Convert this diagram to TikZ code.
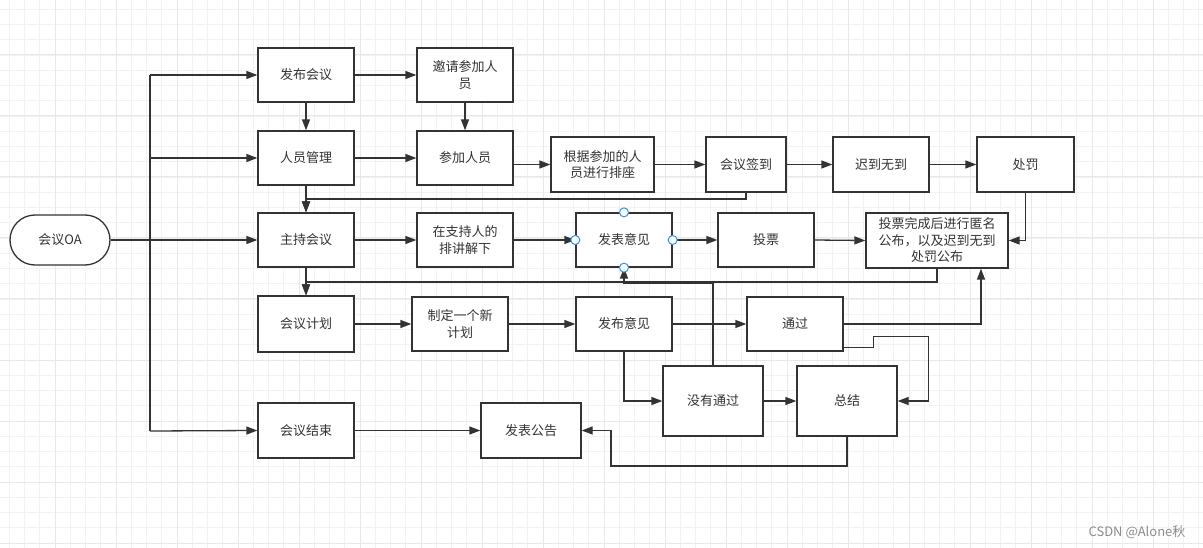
\documentclass[tikz,border=0pt]{standalone}
\usepackage{fontspec}
\setmainfont{Noto Sans CJK SC}
\usetikzlibrary{arrows.meta,calc}
\definecolor{ink}{HTML}{333333}
\definecolor{gridminor}{HTML}{F2F2F2}
\definecolor{gridmajor}{HTML}{E8E8E8}
\definecolor{handle}{HTML}{3D8EF0}
\tikzset{
  box/.style={draw=ink,line width=1.3pt,fill=white,inner sep=0pt,align=center,text=ink,
    font=\fontsize{13}{16.5}\selectfont},
  arr/.style={draw=ink,line width=1.3pt,-{Triangle[length=11pt,width=8pt]}},
  ln/.style={draw=ink,line width=1.3pt},
  hdl/.style={draw=handle,line width=1pt,fill=white,circle,inner sep=0pt,minimum size=9pt}
}
\begin{document}
\begin{tikzpicture}[x=1pt,y=-1pt]
\useasboundingbox (0,0) rectangle (1203,548);
\fill[white] (0,0) rectangle (1203,548);
% grid
\foreach \i in {0,...,80} {
  \draw[gridminor,line width=0.8pt] ({-6+15.25*\i},0) -- ({-6+15.25*\i},548);
}
\foreach \i in {0,...,37} {
  \draw[gridminor,line width=0.8pt] (0,{-6+15.25*\i}) -- (1203,{-6+15.25*\i});
}
\foreach \i in {0,...,20} {
  \draw[gridmajor,line width=1pt] ({-6+61*\i},0) -- ({-6+61*\i},548);
}
\foreach \i in {0,...,9} {
  \draw[gridmajor,line width=1pt] (0,{-6+61*\i}) -- (1203,{-6+61*\i});
}

% nodes
\node[box,rounded corners=25pt,minimum width=100pt,minimum height=50pt] (oa) at (60,240) {会议OA};
\node[box,minimum width=96pt,minimum height=54pt] (fbhy) at (306,75) {发布会议};
\node[box,minimum width=96pt,minimum height=54pt] (rygl) at (306,158) {人员管理};
\node[box,minimum width=96pt,minimum height=54pt] (zchy) at (306,240) {主持会议};
\node[box,minimum width=96pt,minimum height=56pt] (hyjh) at (306,324) {会议计划};
\node[box,minimum width=96pt,minimum height=55pt] (hyjs) at (306,430.5) {会议结束};
\node[box,minimum width=96pt,minimum height=54pt] (yq) at (465,75) {邀请参加人\\员};
\node[box,minimum width=96pt,minimum height=54pt] (cjry) at (465,158) {参加人员};
\node[box,minimum width=96pt,minimum height=54pt] (zcr) at (465,240) {在支持人的\\排讲解下};
\node[box,minimum width=96pt,minimum height=54pt] (zd) at (460,324) {制定一个新\\计划};
\node[box,minimum width=100pt,minimum height=55pt] (fbgg) at (531,430.5) {发表公告};
\node[box,minimum width=103pt,minimum height=55pt] (gj) at (602.5,164.5) {根据参加的人\\员进行排座};
\node[box,minimum width=96pt,minimum height=54pt] (fbyj) at (624,240) {发表意见};
\node[box,minimum width=96pt,minimum height=54pt] (fbyj2) at (624,324) {发布意见};
\node[box,minimum width=100pt,minimum height=70pt] (mytg) at (713,401) {没有通过};
\node[box,minimum width=80pt,minimum height=55pt] (qd) at (746,164.5) {会议签到};
\node[box,minimum width=96pt,minimum height=54pt] (tp) at (766,240) {投票};
\node[box,minimum width=96pt,minimum height=54pt] (tg) at (795,324) {通过};
\node[box,minimum width=100pt,minimum height=70pt] (zj) at (847,401) {总结};
\node[box,minimum width=96pt,minimum height=55pt] (cd) at (881,164.5) {迟到无到};
\node[box,minimum width=97pt,minimum height=55pt] (cf) at (1025.5,164.5) {处罚};
\node[box,minimum width=142pt,minimum height=55pt] (tpwc) at (937,240.5) {投票完成后进行匿名\\公布，以及迟到无到\\处罚公布};

% helper coordinates
\coordinate (trT) at (150,75);
\coordinate (trB) at (150,431);
\coordinate (j1) at (306,199);
\coordinate (j2) at (306,282);
\coordinate (j3) at (624,283);
\coordinate (c981) at (981,0);
\coordinate (j5) at (611,466);

% trunk
\draw[ln] (trT) -- (trB);
\draw[arr] (trT) -- (fbhy.west);
\draw[arr] (trT |- rygl.west) -- (rygl.west);
\draw[arr] (oa.east) -- (zchy.west);
\draw[arr] (trB) -- (hyjs.west);

% row connectors
\draw[arr] (fbhy.east) -- (yq.west);
\draw[arr] (fbhy.south) -- (rygl.north);
\draw[arr] (yq.south) -- (cjry.north);
\draw[arr] (rygl.east) -- (cjry.west);
\draw[arr] (cjry.east |- gj.west) -- (gj.west);
\draw[arr] (gj.east) -- (qd.west);
\draw[arr] (qd.east) -- (cd.west);
\draw[arr] (cd.east) -- (cf.west);
\draw[arr] (cf.south) |- (tpwc.east);
\draw[arr] (rygl.south) -- (zchy.north);
\draw[arr] (qd.south) |- (j1) -- (zchy.north);

\draw[arr] (zchy.east) -- (zcr.west);
\draw[arr] (zcr.east) -- (fbyj.west);
\draw[arr] (fbyj.east) -- (tp.west);
\draw[arr] (tp.east) -- (tpwc.west);
\draw[arr] (zchy.south) -- (hyjh.north);
\draw[arr] (tpwc.south) |- (j2) -- (hyjh.north);

\draw[arr] (hyjh.east) -- (zd.west);
\draw[arr] (zd.east) -- (fbyj2.west);
\draw[arr] (fbyj2.east) -- (tg.west);
\draw[arr] (fbyj2.south) |- (mytg.west);
\draw[arr] (mytg.north) |- (j3) -- (fbyj.south);
\draw[arr] (mytg.east) -- (zj.west);
\draw[arr] (tg.east) -| (tpwc.south -| c981);
\draw[arr] ($(tg.south east)+(0,-4)$) -- ++(30,0) -- ++(0,-11) -- ++(55,0) |- (zj.east);
\draw[arr] (zj.south) |- (j5) |- (fbgg.east);
\draw[arr] (hyjs.east) -- (fbgg.west);

% selection handles
\node[hdl] (h1) at (fbyj.west) {};
\node[hdl] (h2) at (fbyj.east) {};
\node[hdl] (h3) at (fbyj.north) {};
\node[hdl] (h4) at (fbyj.south) {};

% watermark
\node[text=black!45,font=\fontsize{13}{15}\selectfont,inner sep=0pt] (wm) at (1137,532) {CSDN @Alone秋};
\end{tikzpicture}
\end{document}
